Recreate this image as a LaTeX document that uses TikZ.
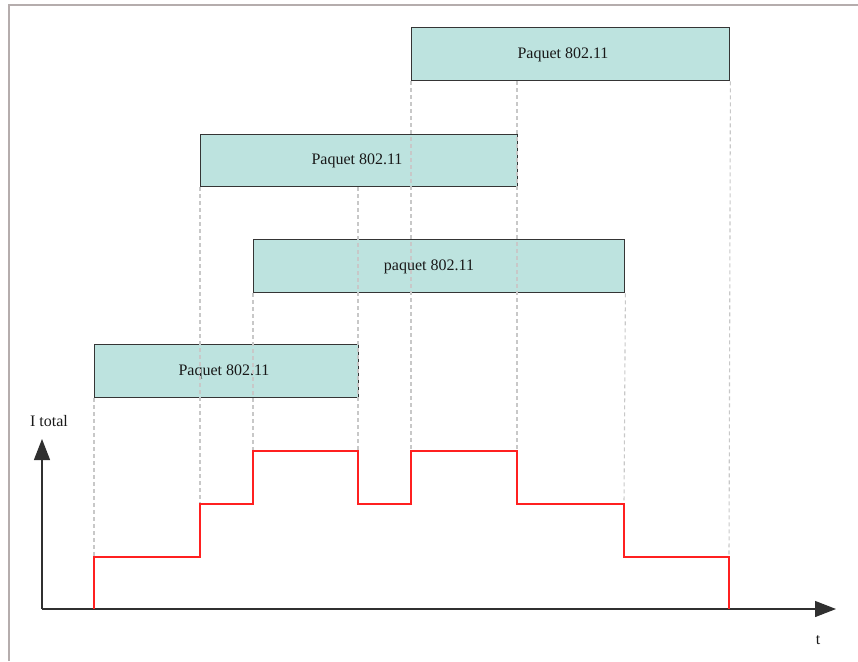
\documentclass[tikz,border=0pt]{standalone}
\usepackage{fontspec}
\setmainfont{Liberation Serif}
\usetikzlibrary{arrows.meta}
\definecolor{boxfill}{HTML}{BDE3DF}
\definecolor{boxline}{HTML}{353535}
\definecolor{guide}{HTML}{C8C8C8}
\definecolor{frame}{HTML}{B5ADAD}
\definecolor{axis}{HTML}{303030}
\definecolor{stepred}{HTML}{FF2020}
\tikzset{
  pbox/.style={draw=boxline, fill=boxfill, line width=1.4pt, anchor=north west, inner sep=0pt},
  ptext/.style={font=\fontsize{16}{18}\selectfont, text=black!90, inner sep=0pt},
  guideline/.style={draw=guide, line width=1.1pt, dash pattern=on 4pt off 3pt},
  axisline/.style={draw=axis, line width=1.3pt, -{Triangle[length=21pt,width=16pt]}},
  stepline/.style={draw=stepred, line width=1.5pt},
}
\begin{document}
\begin{tikzpicture}[x=1pt,y=-1pt]
\useasboundingbox (0,0) rectangle (858,661);
% frame
\coordinate (fbl) at (9,661);
\coordinate (ftl) at (9,5);
\coordinate (ftr) at (858,5);
\draw[draw=frame, line width=1.5pt] (fbl) -- (ftl) -- (ftr);
% boxes
\node[pbox, minimum width=318pt, minimum height=53pt] (b1) at (411,27) {};
\node[pbox, minimum width=317pt, minimum height=52pt] (b2) at (200,134) {};
\node[pbox, minimum width=371pt, minimum height=53pt] (b3) at (253,239) {};
\node[pbox, minimum width=264pt, minimum height=53pt] (b4) at (94,344) {};
\node[ptext] (t1) at (563,55) {Paquet 802.11};
\node[ptext] (t2) at (357,161) {Paquet 802.11};
\node[ptext] (t3) at (429,267) {paquet 802.11};
\node[ptext] (t4) at (224,372) {Paquet 802.11};
% step corners
\coordinate (s0) at (94,609);
\coordinate (s1) at (94,557);
\coordinate (s2) at (200,557);
\coordinate (s3) at (200,504);
\coordinate (s4) at (253,504);
\coordinate (s5) at (253,451);
\coordinate (s6) at (358,451);
\coordinate (s7) at (358,504);
\coordinate (s8) at (411,504);
\coordinate (s9) at (411,451);
\coordinate (s10) at (517,451);
\coordinate (s11) at (517,504);
\coordinate (s12) at (624,504);
\coordinate (s13) at (624,557);
\coordinate (s14) at (729,557);
\coordinate (s15) at (729,609);
% guide lines
\draw[guideline] (b4.south west) -- (s1);
\draw[guideline] (b2.south west) -- (s3);
\draw[guideline] (b3.south west) -- (s5);
\draw[guideline] (b2.south -| s6) -- (s6);
\draw[guideline] (b1.south west) -- (s9);
\draw[guideline] (b1.south -| s10) -- (s11);
\draw[guideline] (b3.south east) -- (s12);
\draw[guideline] (b1.south east) -- (s14);
% axes
\coordinate (o) at (42,609);
\coordinate (ytip) at (42,439);
\coordinate (xtip) at (836,609);
\draw[axisline] (o) -- (ytip);
\draw[axisline] (o) -- (xtip);
\node[ptext] (ylab) at (49,421) {I total};
\node[ptext] (xlab) at (818,640) {t};
% step current
\draw[stepline] (s0) -- (s1) -- (s2) -- (s3) -- (s4) -- (s5) -- (s6) -- (s7) -- (s8) -- (s9) -- (s10) -- (s11) -- (s12) -- (s13) -- (s14) -- (s15);
\end{tikzpicture}
\end{document}
